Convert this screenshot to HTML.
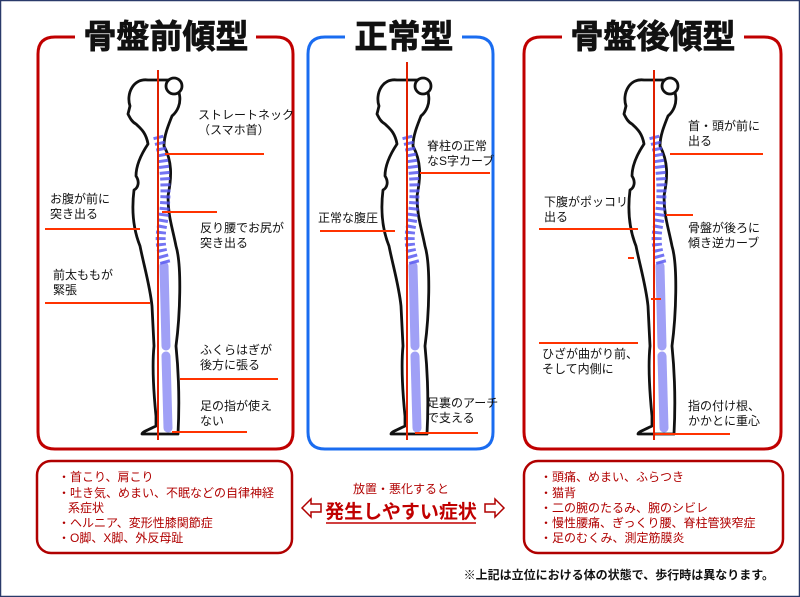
<!DOCTYPE html>
<html><head><meta charset="utf-8"><style>
html,body{margin:0;padding:0;background:#fff}
svg{display:block}
text{font-family:"Liberation Sans","Noto Sans CJK JP",sans-serif}
</style></head><body>
<svg width="800" height="597" viewBox="0 0 800 597" xmlns="http://www.w3.org/2000/svg">
<rect x="0.5" y="0.5" width="799" height="596" fill="#fff" stroke="#2a3a6a" stroke-width="1.5"/>
<defs>
<g id="fig">
<path d="M-10,14 C-25,12 -32,28 -28,40 L-30,48 C-28,52 -26,56 -22,58 C-18,62 -12,66 -10,78 C-18,90 -22,100 -22,110 C-18,116 -20,122 -24,124 C-26,140 -26,160 -18,180 C-14,200 -8,220 -6,240 L-4,280 C-6,300 -4,330 -2,350 L-2,360 C-10,364 -16,366 -16,368 L20,368 C22,330 20,300 18,280 C22,250 24,200 18,180 C14,160 10,150 10,130 C14,110 14,95 6,80 C6,70 10,60 14,50 C26,40 24,20 10,14 Z" fill="#fff" stroke="#111" stroke-width="2.8" stroke-linejoin="round"/>
<circle cx="16" cy="20" r="8" fill="#fff" stroke="#111" stroke-width="2.8"/>
<path d="M0,70 C8,100 10,130 4,160 C0,180 6,190 8,200" fill="none" stroke="#5050f0" stroke-opacity=".8" stroke-width="10" stroke-dasharray="3 3"/>
<path d="M6,200 L8,280 M8,290 L10,362" fill="none" stroke="#6060f0" stroke-opacity=".6" stroke-width="9" stroke-linecap="round"/>
</g>
</defs>
<g fill="none" stroke-width="3">
<path d="M75,37 H55 Q38,37 38,54 V432 Q38,449 55,449 H276 Q293,449 293,432 V54 Q293,37 276,37 H256" stroke="#c00000"/>
<path d="M345,37 H325 Q308,37 308,54 V432 Q308,449 325,449 H476 Q493,449 493,432 V54 Q493,37 476,37 H462" stroke="#1a6cf0"/>
<path d="M562,37 H541 Q524,37 524,54 V432 Q524,449 541,449 H764 Q781,449 781,432 V54 Q781,37 764,37 H744" stroke="#c00000"/>
</g>
<g font-weight="bold" font-size="33" fill="#111" text-anchor="middle" stroke="#111" stroke-width="0.8">
<text x="166" y="48">骨盤前傾型</text>
<text x="404" y="48">正常型</text>
<text x="653" y="48">骨盤後傾型</text>
</g>
<use href="#fig" transform="translate(158,66)"/>
<use href="#fig" transform="translate(407,66)"/>
<use href="#fig" transform="translate(654,66)"/>
<g stroke="#e02000" stroke-width="2">
<line x1="158" y1="70" x2="158" y2="440"/>
<line x1="407" y1="62" x2="407" y2="440"/>
<line x1="654" y1="70" x2="654" y2="440"/>
</g>
<g stroke="#ff3300" stroke-width="2">
<line x1="165" y1="154" x2="264" y2="154"/>
<line x1="162" y1="212" x2="217" y2="212"/>
<line x1="45" y1="229" x2="140" y2="229"/>
<line x1="45" y1="303" x2="150" y2="303"/>
<line x1="180" y1="379" x2="278" y2="379"/>
<line x1="172" y1="432" x2="247" y2="432"/>
<line x1="420" y1="173" x2="490" y2="173"/>
<line x1="320" y1="231" x2="395" y2="231"/>
<line x1="415" y1="433" x2="478" y2="433"/>
<line x1="670" y1="154" x2="763" y2="154"/>
<line x1="666" y1="215" x2="693" y2="215"/>
<line x1="539" y1="229" x2="638" y2="229"/>
<line x1="539" y1="343" x2="638" y2="343"/>
<line x1="655" y1="434" x2="730" y2="434"/>
<line x1="628" y1="258" x2="634" y2="258"/>
<line x1="651" y1="299" x2="661" y2="299"/>
</g>
<g font-size="12" fill="#111">
<text x="198" y="119">ストレートネック</text><text x="198" y="134">（スマホ首）</text>
<text x="50" y="203">お腹が前に</text><text x="50" y="218">突き出る</text>
<text x="200" y="232">反り腰でお尻が</text><text x="200" y="247">突き出る</text>
<text x="53" y="279">前太ももが</text><text x="53" y="294">緊張</text>
<text x="200" y="354">ふくらはぎが</text><text x="200" y="369">後方に張る</text>
<text x="200" y="410">足の指が使え</text><text x="200" y="425">ない</text>
<text x="427" y="150">脊柱の正常</text><text x="427" y="165">なS字カーブ</text>
<text x="318" y="222">正常な腹圧</text>
<text x="427" y="407">足裏のアーチ</text><text x="427" y="422">で支える</text>
<text x="688" y="130">首・頭が前に</text><text x="688" y="145">出る</text>
<text x="688" y="232">骨盤が後ろに</text><text x="688" y="247">傾き逆カーブ</text>
<text x="544" y="206">下腹がポッコリ</text><text x="544" y="221">出る</text>
<text x="542" y="358">ひざが曲がり前、</text><text x="542" y="373">そして内側に</text>
<text x="688" y="410">指の付け根、</text><text x="688" y="425">かかとに重心</text>
</g>
<rect x="37" y="461" width="255" height="92" rx="14" fill="#fff" stroke="#b00000" stroke-width="2.5"/>
<rect x="524" y="461" width="259" height="92" rx="14" fill="#fff" stroke="#b00000" stroke-width="2.5"/>
<g font-size="12" fill="#b00000">
<text x="58" y="481">・首こり、肩こり</text>
<text x="58" y="497">・吐き気、めまい、不眠などの自律神経</text>
<text x="68" y="512">系症状</text>
<text x="58" y="527">・ヘルニア、変形性膝関節症</text>
<text x="58" y="542">・O脚、X脚、外反母趾</text>
<text x="540" y="481">・頭痛、めまい、ふらつき</text>
<text x="540" y="497">・猫背</text>
<text x="540" y="512">・二の腕のたるみ、腕のシビレ</text>
<text x="540" y="527">・慢性腰痛、ぎっくり腰、脊柱管狭窄症</text>
<text x="540" y="542">・足のむくみ、測定筋膜炎</text>
</g>
<text x="401" y="493" font-size="12" fill="#b00000" text-anchor="middle">放置・悪化すると</text>
<text x="401" y="518" font-size="19" font-weight="bold" fill="#c00000" text-anchor="middle">発生しやすい症状</text>
<line x1="326" y1="523" x2="476" y2="523" stroke="#c00000" stroke-width="1.5"/>
<path d="M302,508 L311,499 V504 H321 V512 H311 V517 Z" fill="#fff" stroke="#b00000" stroke-width="1.5"/>
<path d="M504,508 L495,499 V504 H485 V512 H495 V517 Z" fill="#fff" stroke="#b00000" stroke-width="1.5"/>
<text x="774" y="579" font-size="12" font-weight="bold" fill="#111" text-anchor="end">※上記は立位における体の状態で、歩行時は異なります。</text>
</svg>
</body></html>
